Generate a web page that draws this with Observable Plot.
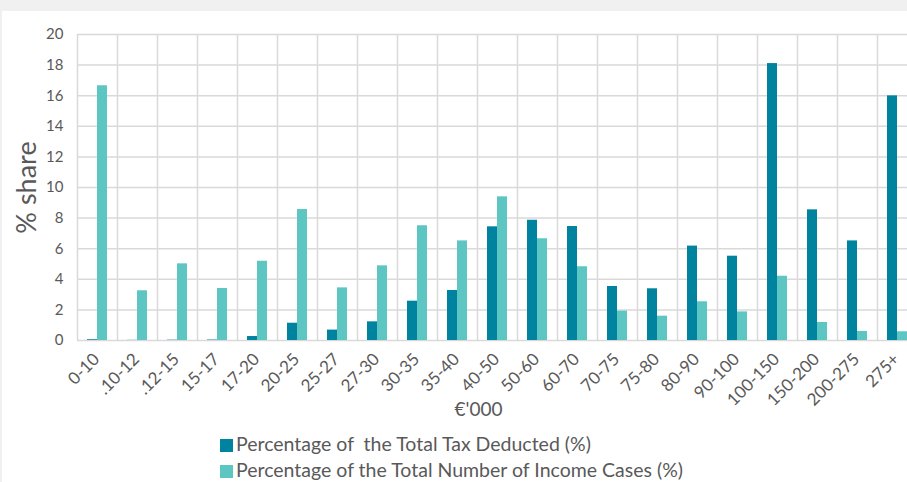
<!DOCTYPE html>
<html>
<head>
<meta charset="utf-8">
<script src="https://cdn.jsdelivr.net/npm/d3@7"></script>
<script src="https://cdn.jsdelivr.net/npm/@observablehq/plot@0.6"></script>
<style>
  html, body { margin: 0; padding: 0; background: #f0f0f0; width: 907px; height: 482px; overflow: hidden; }
  #panel { position: absolute; left: 2px; top: 11px; width: 905px; height: 471px; background: #fff; overflow: hidden; font-family: Lato, "Open Sans", sans-serif; }
  #chart { position: absolute; left: 0; top: 0; width: 915px; }
  #chart svg { max-width: none !important; }
  #xlabel { position: absolute; left: 0; width: 953px; top: 386px; text-align: center; font-size: 19px; color: #595959; }
  #legend { position: absolute; left: 218px; top: 420px; font-size: 19.5px; color: #595959; line-height: 25.5px; white-space: pre; }
  .sw { display: inline-block; width: 13px; height: 13px; margin-right: 3px; vertical-align: -1px; }
</style>
</head>
<body>
<div id="panel">
  <div id="chart"></div>
  <div id="xlabel">€'000</div>
  <div id="legend"></div>
</div>
<script>
const categories = ["0-10", ".10-12", ".12-15", "15-17", "17-20", "20-25", "25-27", "27-30", "30-35", "35-40", "40-50", "50-60", "60-70", "70-75", "75-80", "80-90", "90-100", "100-150", "150-200", "200-275", "275+"];
const taxDeducted = [0.05, 0.01, 0.02, 0.03, 0.26, 1.13, 0.68, 1.22, 2.57, 3.27, 7.43, 7.86, 7.45, 3.53, 3.38, 6.17, 5.51, 18.1, 8.54, 6.51, 15.99];
const incomeCases = [16.65, 3.25, 5.01, 3.4, 5.18, 8.56, 3.44, 4.88, 7.5, 6.51, 9.39, 6.65, 4.82, 1.92, 1.59, 2.53, 1.87, 4.2, 1.18, 0.59, 0.57];
const yTicks = [0, 2, 4, 6, 8, 10, 12, 14, 16, 18, 20];
const seriesNames = ["Percentage of  the Total Tax Deducted (%)", "Percentage of the Total Number of Income Cases (%)"];
const colors = ["#00839f", "#5ec6c2"];

const taxData = categories.map((c, i) => ({cat: c, v: taxDeducted[i]}));
const caseData = categories.map((c, i) => ({cat: c, v: incomeCases[i]}));

const chart = Plot.plot({
  width: 915,
  height: 420,
  marginLeft: 75,
  marginRight: 0,
  marginTop: 23,
  marginBottom: 91,
  style: {fontFamily: "Lato, 'Open Sans', sans-serif", color: "#595959", background: "transparent"},
  x: {domain: categories, padding: 0},
  y: {domain: [0, 20]},
  marks: [
    Plot.gridY(yTicks, {stroke: "#d9d9d9", strokeOpacity: 1, strokeWidth: 1.5}),
    Plot.ruleX(categories, {x: d => d, dx: -20, stroke: "#d9d9d9", strokeOpacity: 1, strokeWidth: 1.5}),
    Plot.barY(taxData, {x: "cat", y: "v", fill: colors[0], insetLeft: 10, insetRight: 20}),
    Plot.barY(caseData, {x: "cat", y: "v", fill: colors[1], insetLeft: 20, insetRight: 10}),
    Plot.axisY(yTicks, {tickSize: 0, tickPadding: 14, fontSize: 15, fill: "#595959", label: null}),
    Plot.axisX({tickSize: 0, tickRotate: -45, tickPadding: 12, dx: -1, dy: 4, fontSize: 17, fill: "#595959", label: null}),
    Plot.text(["% share"], {frameAnchor: "left", textAnchor: "middle", rotate: -90, dx: -50, fontSize: 27, fill: "#595959"})
  ]
});
document.getElementById("chart").appendChild(chart);

const legend = document.getElementById("legend");
legend.innerHTML = seriesNames.map((n, i) => `<div><span class="sw" style="background:${colors[i]}"></span>${n}</div>`).join("");
</script>
</body>
</html>
